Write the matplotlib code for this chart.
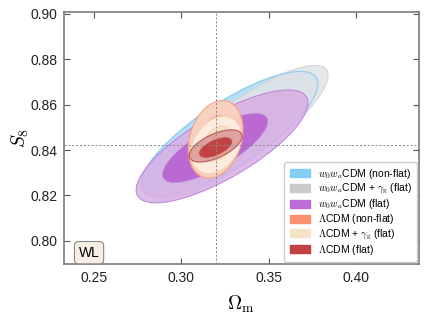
import numpy as np
import matplotlib
matplotlib.use("Agg")
import matplotlib.pyplot as plt
from matplotlib.patches import Ellipse, Patch

# ---- data ----
labels = [r"$w_0w_a$CDM (non-flat)", r"$w_0w_a$CDM + $\gamma_{\rm g}$ (flat)",
          r"$w_0w_a$CDM (flat)", r"$\Lambda$CDM (non-flat)",
          r"$\Lambda$CDM + $\gamma_{\rm g}$ (flat)", r"$\Lambda$CDM (flat)"]
# 95% contour centre
center_om = [0.3276, 0.3337, 0.3233, 0.3196, 0.3199, 0.3196]
center_s8 = [0.8471, 0.8480, 0.8416, 0.8447, 0.8422, 0.8418]
# 68% contour centre
center_om_1s = [0.3276, 0.3337, 0.3193, 0.3196, 0.3210, 0.3196]
center_s8_1s = [0.8471, 0.8480, 0.8409, 0.8447, 0.8429, 0.8411]
sigma_om = [0.02037, 0.02025, 0.0198, 0.00633, 0.00587, 0.0061]
sigma_s8 = [0.01106, 0.01177, 0.0100, 0.00687, 0.00508, 0.00285]
corr = [0.80, 0.85, 0.77, 0.25, 0.30, 0.60]
fid_om = 0.32
fid_s8 = 0.842
xticks = [0.25, 0.30, 0.35, 0.40]
yticks = [0.80, 0.82, 0.84, 0.86, 0.88, 0.90]

# ---- styles ----
col_out = ["#b2def8", "#e2e3e5", "#d6afe5", "#fcd2bd", "#fdefe3", "#dc9c9a"]
col_in = ["#a3d7f6", "#d6d7da", "#b65cd0", "#f9c0a5", "#f9dfc2", "#c0393b"]
col_edge = ["#96cff3", "#d0d0d2", "#bd7ad9", "#f59c7a", "#f3d0b0", "#b8504e"]
alphas = [0.95, 0.85, 0.85, 0.92, 0.92, 0.92]
legend_col = ["#80cbf5", "#c9c9c9", "#b866d6", "#fa8c6a", "#f6e1c3", "#c0393b"]
k1, k2 = np.sqrt(2.30), np.sqrt(6.18)

plt.rcParams['mathtext.fontset'] = 'cm'
plt.rcParams['font.family'] = ['Liberation Sans', 'DejaVu Sans']

fig = plt.figure(figsize=(4.30, 3.22), dpi=100)
ax = fig.add_axes([0.149, 0.180, 0.825, 0.783])


def ellipse(cx, cy, sx, sy, r, k, **kw):
    cov = np.array([[sx * sx, r * sx * sy], [r * sx * sy, sy * sy]])
    vals, vecs = np.linalg.eigh(cov)
    i = np.argmax(vals)
    ang = np.degrees(np.arctan2(vecs[1, i], vecs[0, i]))
    w = 2 * k * np.sqrt(vals[i])
    h = 2 * k * np.sqrt(vals[1 - i])
    return Ellipse((cx, cy), w, h, angle=ang, **kw)


for j in range(len(labels)):
    z = 2 + 2 * j
    ax.add_patch(ellipse(center_om[j], center_s8[j], sigma_om[j], sigma_s8[j], corr[j], k2,
                         facecolor=col_out[j], edgecolor=col_edge[j],
                         lw=0.8, alpha=alphas[j], zorder=z))
    ax.add_patch(ellipse(center_om_1s[j], center_s8_1s[j], sigma_om[j], sigma_s8[j], corr[j], k1,
                         facecolor=col_in[j], edgecolor=col_edge[j],
                         lw=0.6, alpha=alphas[j], zorder=z))
    if j == 0:
        # outline of the non-flat w0wa contour stays visible through the grey one
        ax.add_patch(ellipse(center_om[j], center_s8[j], sigma_om[j], sigma_s8[j], corr[j], k2,
                             facecolor="none", edgecolor=col_edge[j], lw=0.9, zorder=5))

ax.axvline(fid_om, color="#888888", ls=(0, (2, 2)), lw=0.7, zorder=30)
ax.axhline(fid_s8, color="#888888", ls=(0, (2, 2)), lw=0.7, zorder=30)

ax.set_xlim(0.2328, 0.436)
ax.set_ylim(0.7898, 0.9008)
ax.set_xticks(xticks)
ax.set_yticks(yticks)
ax.set_xticklabels([f"{v:.2f}" for v in xticks])
ax.set_yticklabels([f"{v:.2f}" for v in yticks])
ax.tick_params(direction="in", top=True, right=True, length=4, width=0.8,
               labelsize=10, colors="#555555", labelcolor="#222222", pad=5)
for s in ax.spines.values():
    s.set_color("#707070")
    s.set_linewidth(1.1)

ax.set_xlabel(r"$\Omega_{\rm m}$", fontsize=14, labelpad=6)
ax.set_ylabel(r"$S_8$", fontsize=14, labelpad=-1)

handles = [Patch(facecolor=c, edgecolor=c, alpha=0.95) for c in legend_col]
leg = ax.legend(handles, labels, loc="lower right", fontsize=7.5, frameon=True,
                fancybox=True, framealpha=1.0, edgecolor="#cccccc",
                handlelength=2.0, handleheight=0.8, labelspacing=0.1,
                borderaxespad=0.2, borderpad=0.5, handletextpad=0.7)
leg.set_zorder(40)

ax.text(0.2471, 0.7948, "WL", fontsize=10, ha="center", va="center",
        zorder=40,
        bbox=dict(boxstyle="round,pad=0.3", facecolor="#f8efe4", edgecolor="#888888", lw=0.8))

fig.savefig("out.png", dpi=100)
